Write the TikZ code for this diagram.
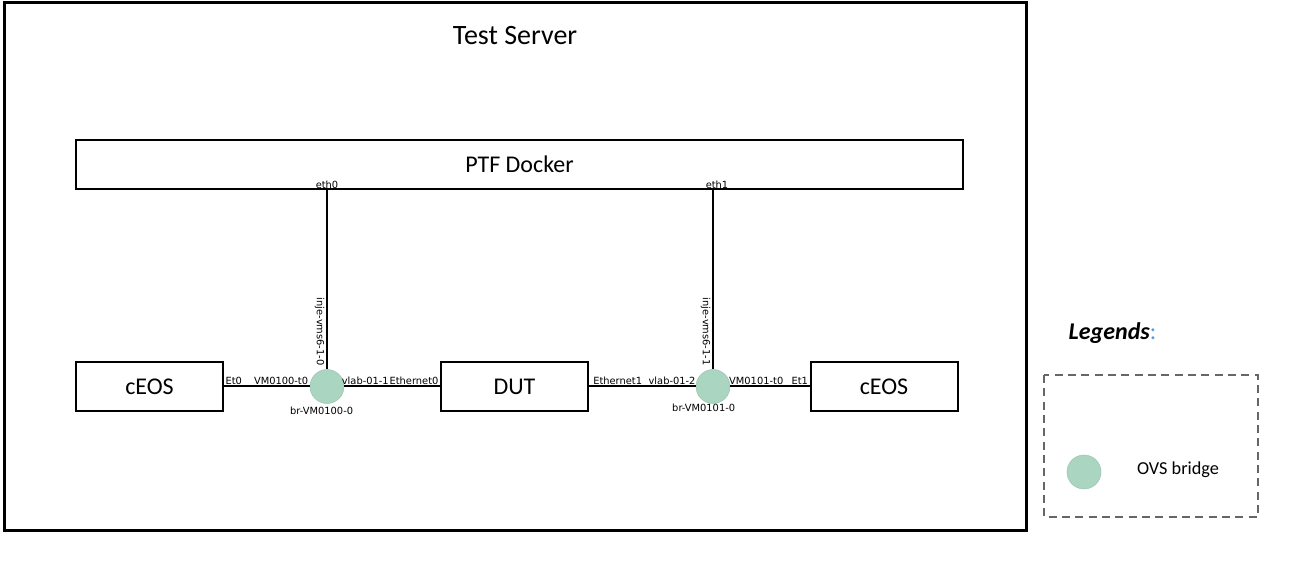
\documentclass[tikz,border=0pt]{standalone}
\usepackage{fontspec}
\setmainfont{Carlito}
\newfontfamily\portfont{DejaVu Sans}
\usepackage{tikz}
\usetikzlibrary{positioning,calc}
\definecolor{ovsgreen}{RGB}{170,213,192}
\definecolor{legblue}{RGB}{91,155,213}
\tikzstyle{qbox}=[rectangle, draw, line width=1.5pt, minimum width=110.25pt, minimum height=36.75pt, inner sep=0pt, font=\fontsize{18}{20}\selectfont]
\tikzstyle{ovs}=[circle, fill=ovsgreen, draw=ovsgreen!80!gray, thin, minimum size=25.5pt, inner sep=0pt]
\tikzstyle{port}=[font=\portfont\fontsize{7.4}{8}\selectfont, inner sep=1pt]
\tikzstyle{wire}=[line width=1.5pt]

\begin{document}
\begin{tikzpicture}[x=0.75pt, y=-0.75pt]
  \useasboundingbox (0,0) rectangle (1303,580);
  \draw[line width=2.25pt] (4,3) rectangle (1026,531);
  \node[font=\fontsize{21}{24}\selectfont] (server) at (515,36) {Test Server};

  \node[qbox, minimum width=665.25pt] (ptf) at (519.5,164.5) {PTF Docker};
  \node[qbox] (ceos0) at (149.5,386.5) {cEOS};
  \node[qbox] (dut) at (514.5,386.5) {DUT};
  \node[qbox] (ceos1) at (884,386.5) {cEOS};

  \node[ovs, label={[port, yshift=-1pt, xshift=-4pt]below:br-VM0100-0}] (br0) at (327,386.5) {};
  \node[ovs, label={[port, yshift=1pt, xshift=-7pt]below:br-VM0101-0}] (br1) at (713,386.5) {};

  \coordinate (eth0) at (br0 |- ptf.south);
  \coordinate (eth1) at (br1 |- ptf.south);

  \draw[wire] (ceos0.east) -- (br0.west);
  \draw[wire] (br0.east) -- (dut.west);
  \draw[wire] (dut.east) -- (br1.west);
  \draw[wire] (br1.east) -- (ceos1.west);
  \draw[wire] (eth0) -- (br0.north);
  \draw[wire] (eth1) -- (br1.north);

  % port names
  \node[port, above] (peth0) at (eth0) {eth0};
  \node[port, above, xshift=3pt] (peth1) at (eth1) {eth1};
  \node[port, rotate=-90, anchor=north east] (inj0) at ($(br0.north)+(-1,-2)$) {inje-vms6-1-0};
  \node[port, rotate=-90, anchor=north east] (inj1) at ($(br1.north)+(-1,-2)$) {inje-vms6-1-1};

  \node[port, above right] (et0) at (ceos0.east) {Et0};
  \node[port, above left] (vm0) at (br0.west) {VM0100-t0};
  \node[port, above right, xshift=-3pt] (vl1) at (br0.east) {vlab-01-1};
  \node[port, above left] (e0) at (dut.west) {Ethernet0};
  \node[port, above right, xshift=2pt] (e1) at (dut.east) {Ethernet1};
  \node[port, above left, xshift=1pt] (vl2) at (br1.west) {vlab-01-2};
  \node[port, above right, xshift=-2pt] (vm1) at (br1.east) {VM0101-t0};
  \node[port, above left] (et1) at (ceos1.west) {Et1};

  % legend
  \node[anchor=west, font=\fontsize{18}{20}\selectfont\bfseries\itshape] (leg) at (1064,333) {Legends\textcolor{legblue}{\normalfont:}};
  \draw[dashed, gray!80!black, line width=0.9pt, dash pattern=on 6pt off 4pt] (1044,375) rectangle (1258,517);
  \node[ovs] (legovs) at (1084,472) {};
  \node[font=\fontsize{13.7}{15}\selectfont] (legtxt) at (1178,470) {OVS bridge};
\end{tikzpicture}
\end{document}
